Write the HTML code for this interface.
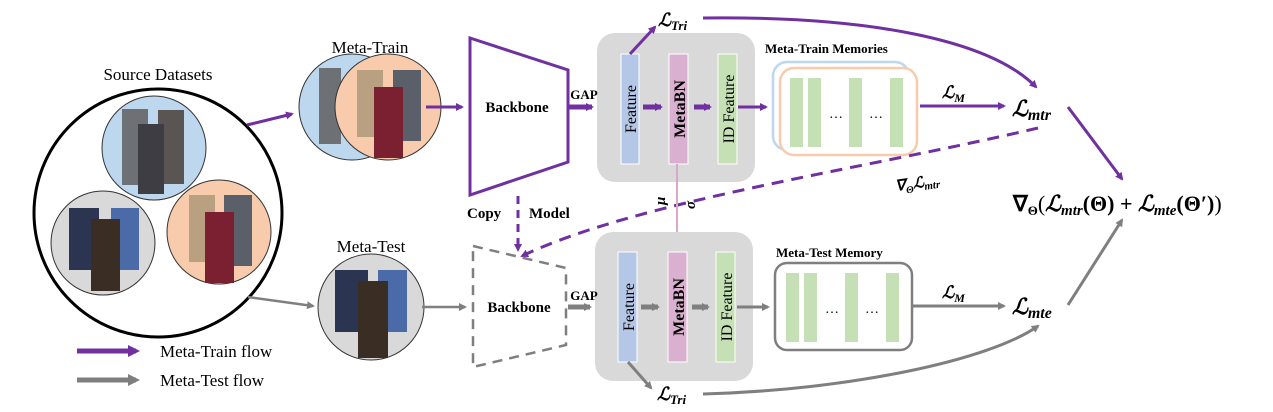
<!DOCTYPE html>
<html><head><meta charset="utf-8"><style>
html,body{margin:0;padding:0;background:#fff}
svg{display:block}
text{font-family:"Liberation Serif",serif}
.b{font-weight:bold}
.m{font-family:"Liberation Serif",serif;font-style:italic;font-weight:bold}
</style></head><body>
<svg width="1273" height="412" viewBox="0 0 1273 412" xmlns="http://www.w3.org/2000/svg">
<defs>
<marker id="ap" markerWidth="8" markerHeight="8" refX="6" refY="4" orient="auto" markerUnits="userSpaceOnUse"><path d="M0,0 L8,4 L0,8 z" fill="#7030a0"/></marker>
<marker id="ag" markerWidth="8" markerHeight="8" refX="6" refY="4" orient="auto" markerUnits="userSpaceOnUse"><path d="M0,0 L8,4 L0,8 z" fill="#7f7f7f"/></marker>
<marker id="ak" markerWidth="8" markerHeight="8" refX="6" refY="4" orient="auto" markerUnits="userSpaceOnUse"><path d="M0,0 L8,4 L0,8 z" fill="#d9a7c7"/></marker>
<marker id="apb" markerWidth="12" markerHeight="12" refX="8" refY="6" orient="auto" markerUnits="userSpaceOnUse"><path d="M0,0 L12,6 L0,12 z" fill="#7030a0"/></marker>
<marker id="agb" markerWidth="12" markerHeight="12" refX="8" refY="6" orient="auto" markerUnits="userSpaceOnUse"><path d="M0,0 L12,6 L0,12 z" fill="#7f7f7f"/></marker>
</defs>

<text x="158" y="80" font-size="17" text-anchor="middle">Source Datasets</text>
<circle cx="158" cy="213" r="124" fill="#fff" stroke="#000" stroke-width="3"/>
<circle cx="154" cy="148" r="52" fill="#bdd7ee" stroke="#333" stroke-width="1"/>
<rect x="122" y="109" width="26" height="76" fill="#6d7075"/><rect x="158" y="110" width="26" height="74" fill="#5a5552"/><rect x="138" y="124" width="26" height="70" fill="#3e3d44"/>
<circle cx="103" cy="243" r="52" fill="#d9d9d9" stroke="#333" stroke-width="1"/>
<rect x="69" y="208" width="30" height="62" fill="#2b3450"/><rect x="111" y="208" width="28" height="62" fill="#4a6aa8"/><rect x="91" y="219" width="29" height="72" fill="#3a2d24"/>
<circle cx="219" cy="232" r="52" fill="#f8cbad" stroke="#333" stroke-width="1"/>
<rect x="189" y="195" width="26" height="67" fill="#b9a080"/><rect x="224" y="195" width="28" height="71" fill="#5b5f6a"/><rect x="205" y="212" width="29" height="71" fill="#7a2030"/>

<text x="370" y="53" font-size="17" text-anchor="middle">Meta-Train</text>
<circle cx="352" cy="107" r="53" fill="#bdd7ee" stroke="#333" stroke-width="1"/>
<rect x="319" y="68" width="22" height="76" fill="#6d7075"/>
<circle cx="388" cy="107" r="53" fill="#f8cbad" stroke="#333" stroke-width="1"/>
<rect x="357" y="70" width="26" height="67" fill="#b9a080"/><rect x="393" y="70" width="28" height="71" fill="#5b5f6a"/><rect x="374" y="87" width="29" height="71" fill="#7a2030"/>
<text x="371" y="252" font-size="17" text-anchor="middle">Meta-Test</text>
<circle cx="371" cy="307" r="53" fill="#d9d9d9" stroke="#333" stroke-width="1"/>
<rect x="335" y="270" width="33" height="62" fill="#2b3450"/><rect x="378" y="270" width="29" height="62" fill="#4a6aa8"/><rect x="358" y="281" width="30" height="77" fill="#3a2d24"/>

<line x1="247" y1="125" x2="292" y2="114" stroke="#7030a0" stroke-width="3" marker-end="url(#ap)"/>
<line x1="248" y1="297" x2="313" y2="306" stroke="#7f7f7f" stroke-width="2.5" marker-end="url(#ag)"/>

<line x1="77" y1="351" x2="136" y2="351" stroke="#7030a0" stroke-width="5" marker-end="url(#apb)"/>
<text x="160" y="357" font-size="17">Meta-Train flow</text>
<line x1="77" y1="380" x2="136" y2="380" stroke="#7f7f7f" stroke-width="5" marker-end="url(#agb)"/>
<text x="160" y="386" font-size="17">Meta-Test flow</text>

<line x1="426" y1="107" x2="462" y2="107" stroke="#7030a0" stroke-width="3" marker-end="url(#ap)"/>
<polygon points="470,38 568,70 568,162 470,195" fill="#fff" stroke="#7030a0" stroke-width="3"/>
<text x="517" y="112" font-size="15" class="b" text-anchor="middle">Backbone</text>

<rect x="597" y="33" width="158" height="149" rx="18" fill="#d9d9d9"/>
<line x1="568" y1="107" x2="592" y2="107" stroke="#7030a0" stroke-width="5" marker-end="url(#ap)"/>
<text x="584" y="99" font-size="13" class="b" text-anchor="middle">GAP</text>
<rect x="621" y="54" width="18" height="110" fill="#b4c7e7" stroke="#fff"/>
<rect x="669" y="54" width="19" height="110" fill="#d9b0cf" stroke="#fff"/>
<rect x="718" y="54" width="19" height="110" fill="#c5e0b4" stroke="#fff"/>
<text transform="translate(636,109) rotate(-90)" font-size="16" text-anchor="middle">Feature</text>
<text transform="translate(685,109) rotate(-90)" font-size="16" class="b" text-anchor="middle">MetaBN</text>
<text transform="translate(734,109) rotate(-90)" font-size="16" text-anchor="middle">ID Feature</text>
<line x1="643" y1="107" x2="661" y2="107" stroke="#7030a0" stroke-width="5" marker-end="url(#ap)"/>
<line x1="694" y1="107" x2="710" y2="107" stroke="#7030a0" stroke-width="5" marker-end="url(#ap)"/>
<line x1="738" y1="107" x2="766" y2="107" stroke="#7030a0" stroke-width="3" marker-end="url(#ap)"/>

<text x="765" y="53" font-size="13" class="b">Meta-Train Memories</text>
<rect x="773" y="62" width="136" height="88" rx="14" fill="#fff" stroke="#bdd7ee" stroke-width="2.5"/>
<rect x="780" y="68" width="137" height="87" rx="14" fill="#fff" stroke="#f8cbad" stroke-width="2.5"/>
<rect x="790" y="78" width="13" height="69" fill="#c5e0b4"/><rect x="808" y="78" width="13" height="69" fill="#c5e0b4"/>
<rect x="849" y="78" width="13" height="69" fill="#c5e0b4"/><rect x="890" y="78" width="13" height="69" fill="#c5e0b4"/>
<text x="836" y="118" font-size="14" text-anchor="middle">…</text><text x="876" y="118" font-size="14" text-anchor="middle">…</text>

<line x1="920" y1="106" x2="1004" y2="106" stroke="#7030a0" stroke-width="3" marker-end="url(#ap)"/>
<text x="942" y="98" font-size="17" class="m">ℒ<tspan font-size="12" dy="4">M</tspan></text>
<text x="1012" y="116" font-size="22" class="m">ℒ<tspan font-size="16" dy="4">mtr</tspan></text>

<line x1="630" y1="54" x2="655" y2="27" stroke="#7030a0" stroke-width="3" marker-end="url(#ap)"/>
<text x="658" y="26" font-size="18" class="m">ℒ<tspan font-size="13" dy="4">Tri</tspan></text>
<path d="M703,18 C870,16 990,40 1036,87" fill="none" stroke="#7030a0" stroke-width="3" marker-end="url(#ap)"/>

<path d="M1038,128 C860,170 640,200 522,256" fill="none" stroke="#7030a0" stroke-width="3" stroke-dasharray="12,8" marker-end="url(#ap)"/>
<text x="895" y="186" font-size="15" class="m" transform="rotate(-8 930 180)">∇<tspan font-size="10" dy="4">Θ</tspan><tspan dy="-4">ℒ</tspan><tspan font-size="11" dy="3">mtr</tspan></text>
<line x1="518" y1="196" x2="518" y2="250" stroke="#7030a0" stroke-width="3" stroke-dasharray="8,6" marker-end="url(#ap)"/>
<text x="467" y="218" font-size="15" class="b">Copy</text>
<text x="529" y="218" font-size="15" class="b">Model</text>

<line x1="677" y1="164" x2="677" y2="244" stroke="#d9a7c7" stroke-width="2" marker-end="url(#ak)"/>
<text transform="translate(665,205) rotate(-90)" font-size="15" class="m">μ</text>
<text transform="translate(695,209) rotate(-90)" font-size="15" class="m">σ</text>

<line x1="422" y1="307" x2="465" y2="307" stroke="#7f7f7f" stroke-width="2.5" marker-end="url(#ag)"/>
<polygon points="473,246 566,268 566,345 473,367" fill="#fff" stroke="#7f7f7f" stroke-width="2.5" stroke-dasharray="10,7"/>
<text x="519" y="312" font-size="15" class="b" text-anchor="middle">Backbone</text>

<rect x="595" y="232" width="158" height="149" rx="18" fill="#d9d9d9"/>
<line x1="568" y1="307" x2="590" y2="307" stroke="#7f7f7f" stroke-width="5" marker-end="url(#ag)"/>
<text x="584" y="300" font-size="13" class="b" text-anchor="middle">GAP</text>
<rect x="618" y="252" width="19" height="110" fill="#b4c7e7" stroke="#fff"/>
<rect x="668" y="252" width="19" height="110" fill="#d9b0cf" stroke="#fff"/>
<rect x="716" y="252" width="19" height="110" fill="#c5e0b4" stroke="#fff"/>
<text transform="translate(634,307) rotate(-90)" font-size="16" text-anchor="middle">Feature</text>
<text transform="translate(684,307) rotate(-90)" font-size="16" class="b" text-anchor="middle">MetaBN</text>
<text transform="translate(732,307) rotate(-90)" font-size="16" text-anchor="middle">ID Feature</text>
<line x1="641" y1="307" x2="658" y2="307" stroke="#7f7f7f" stroke-width="5" marker-end="url(#ag)"/>
<line x1="692" y1="307" x2="708" y2="307" stroke="#7f7f7f" stroke-width="5" marker-end="url(#ag)"/>
<line x1="737" y1="307" x2="768" y2="307" stroke="#7f7f7f" stroke-width="3" marker-end="url(#ag)"/>

<text x="776" y="257" font-size="13" class="b">Meta-Test Memory</text>
<rect x="775" y="263" width="137" height="87" rx="12" fill="#fff" stroke="#7f7f7f" stroke-width="2.5"/>
<rect x="786" y="273" width="13" height="69" fill="#c5e0b4"/><rect x="804" y="273" width="13" height="69" fill="#c5e0b4"/>
<rect x="845" y="273" width="13" height="69" fill="#c5e0b4"/><rect x="886" y="273" width="13" height="69" fill="#c5e0b4"/>
<text x="832" y="313" font-size="14" text-anchor="middle">…</text><text x="872" y="313" font-size="14" text-anchor="middle">…</text>

<line x1="913" y1="306" x2="1004" y2="306" stroke="#7f7f7f" stroke-width="3" marker-end="url(#ag)"/>
<text x="942" y="298" font-size="17" class="m">ℒ<tspan font-size="12" dy="4">M</tspan></text>
<text x="1012" y="314" font-size="22" class="m">ℒ<tspan font-size="16" dy="4">mte</tspan></text>

<line x1="628" y1="362" x2="651" y2="388" stroke="#7f7f7f" stroke-width="3" marker-end="url(#ag)"/>
<text x="657" y="400" font-size="18" class="m">ℒ<tspan font-size="13" dy="4">Tri</tspan></text>
<path d="M703,394 C850,390 990,360 1038,326" fill="none" stroke="#7f7f7f" stroke-width="3" marker-end="url(#ag)"/>

<line x1="1068" y1="107" x2="1122" y2="179" stroke="#7030a0" stroke-width="3" marker-end="url(#ap)"/>
<line x1="1068" y1="305" x2="1122" y2="220" stroke="#7f7f7f" stroke-width="3" marker-end="url(#ag)"/>
<text x="1013" y="211" font-size="22" class="b">∇<tspan font-size="13" dy="4">Θ</tspan><tspan dy="-4" font-weight="normal">(</tspan><tspan class="m">ℒ</tspan><tspan font-size="15" dy="4" class="m">mtr</tspan><tspan dy="-4">(Θ) + </tspan><tspan class="m">ℒ</tspan><tspan font-size="15" dy="4" class="m">mte</tspan><tspan dy="-4">(Θ′)</tspan><tspan font-weight="normal">)</tspan></text>
</svg>
</body></html>
